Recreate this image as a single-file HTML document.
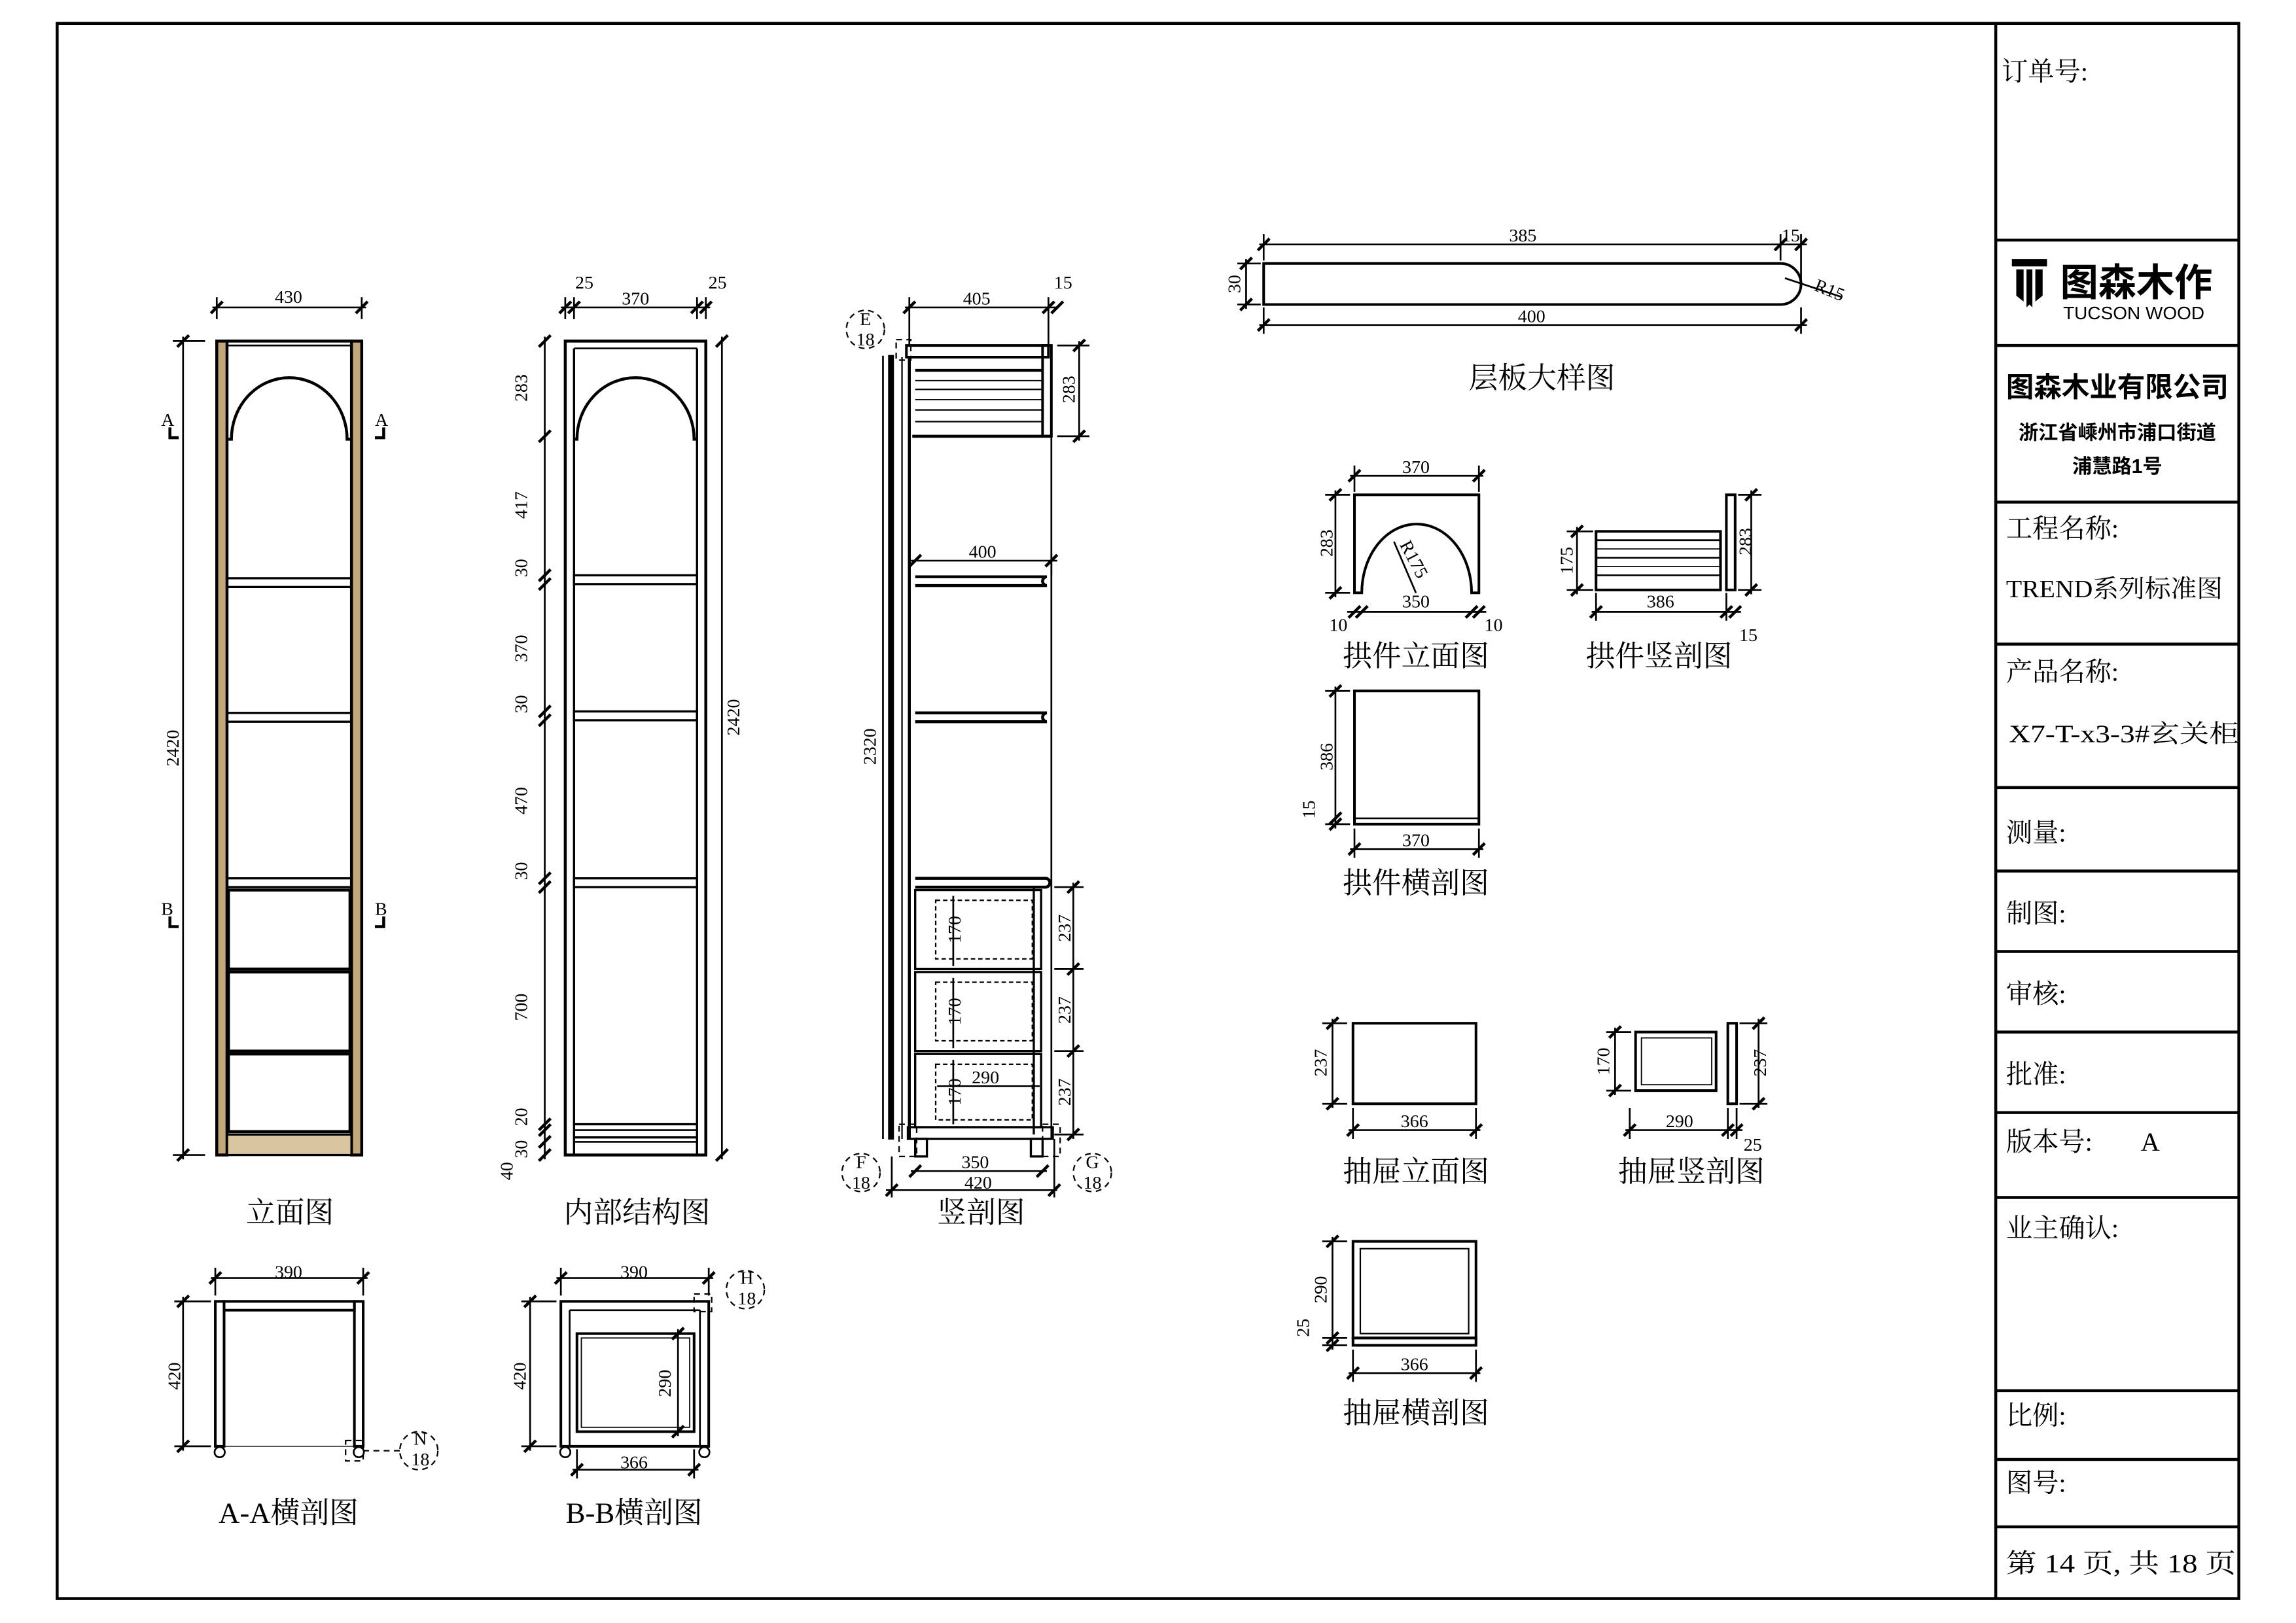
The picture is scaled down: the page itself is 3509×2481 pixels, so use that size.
<!DOCTYPE html>
<html><head><meta charset="utf-8"><style>
html,body{margin:0;padding:0;background:#fff}
svg{display:block}
.n{font-family:"Liberation Serif","Noto Serif CJK SC",serif;font-size:12.5px;fill:#000}
.t{font-family:"Liberation Serif","Noto Serif CJK SC",serif;font-size:20px;fill:#000}
.b{font-family:"Liberation Serif","Noto Serif CJK SC",serif;font-size:18px;fill:#000}
.s{font-family:"Liberation Sans","Noto Sans CJK SC",sans-serif;fill:#000}
</style></head><body>
<svg width="3509" height="2481" viewBox="0 0 1568 1108.7" xmlns="http://www.w3.org/2000/svg">
<g fill="none" stroke="#000" stroke-width="1.2">
<rect x="39" y="16" width="1490" height="1076" stroke-width="2"/>
<line x1="1363" y1="16" x2="1363" y2="1092" stroke-width="2"/>
<g stroke-width="2">
<line x1="1363" y1="164" x2="1529" y2="164"/><line x1="1363" y1="236" x2="1529" y2="236"/>
<line x1="1363" y1="343" x2="1529" y2="343"/><line x1="1363" y1="440" x2="1529" y2="440"/>
<line x1="1363" y1="538" x2="1529" y2="538"/><line x1="1363" y1="595" x2="1529" y2="595"/>
<line x1="1363" y1="650" x2="1529" y2="650"/><line x1="1363" y1="705" x2="1529" y2="705"/>
<line x1="1363" y1="760" x2="1529" y2="760"/><line x1="1363" y1="818" x2="1529" y2="818"/>
<line x1="1363" y1="950" x2="1529" y2="950"/><line x1="1363" y1="997" x2="1529" y2="997"/>
<line x1="1363" y1="1043" x2="1529" y2="1043"/>
</g>

<!-- 立面图 -->
<rect x="148" y="233" width="7" height="556" fill="#c2a77a" stroke-width="2"/>
<rect x="240" y="233" width="7" height="556" fill="#c2a77a" stroke-width="2"/>
<line x1="155" y1="233" x2="240" y2="233" stroke-width="2"/><line x1="155" y1="236" x2="240" y2="236"/>
<path d="M156,300 H158 A39.5,42 0 0 1 237,300 H240" stroke-width="2"/>
<rect x="155" y="395" width="85" height="6" stroke-width="1.5"/>
<rect x="155" y="487" width="85" height="6" stroke-width="1.5"/>
<rect x="155" y="600" width="85" height="6" stroke-width="1.5"/>
<rect x="156" y="608" width="83" height="54" stroke-width="2"/>
<rect x="156" y="664" width="83" height="54" stroke-width="2"/>
<rect x="156" y="720" width="83" height="53" stroke-width="2"/>
<rect x="155" y="775" width="85" height="14" fill="#d9c6a0" stroke-width="1.5"/>
<line x1="145" y1="210" x2="250" y2="210"/><line x1="148" y1="203" x2="148" y2="218"/><line x1="247" y1="203" x2="247" y2="218"/>
<line x1="144" y1="214" x2="152" y2="206" stroke-width="2"/><line x1="243" y1="214" x2="251" y2="206" stroke-width="2"/>
<line x1="125" y1="230" x2="125" y2="792"/><line x1="118" y1="233" x2="140" y2="233"/><line x1="118" y1="789" x2="140" y2="789"/>
<line x1="121" y1="237" x2="129" y2="229" stroke-width="2"/><line x1="121" y1="793" x2="129" y2="785" stroke-width="2"/>
<path d="M116,292 V299 H122 M262,292 V299 H256 M116,626 V633 H122 M262,626 V633 H256" stroke-width="2"/>

<!-- 内部结构图 -->
<rect x="386" y="233" width="96" height="556" stroke-width="2"/>
<line x1="392" y1="238" x2="392" y2="789" stroke-width="1.5"/><line x1="476" y1="238" x2="476" y2="789" stroke-width="1.5"/>
<line x1="392" y1="238" x2="476" y2="238"/>
<path d="M392,300 H394 A40,42 0 0 1 474,300 H476" stroke-width="2"/>
<rect x="392" y="393" width="84" height="6" stroke-width="1.5"/>
<rect x="392" y="486" width="84" height="6" stroke-width="1.5"/>
<rect x="392" y="600" width="84" height="6" stroke-width="1.5"/>
<line x1="392" y1="768" x2="476" y2="768" stroke-width="1.5"/><line x1="392" y1="772" x2="476" y2="772"/>
<line x1="392" y1="777" x2="476" y2="777" stroke-width="1.5"/><line x1="392" y1="780" x2="476" y2="780"/>
<line x1="383" y1="210" x2="485" y2="210"/>
<g stroke-width="2"><line x1="382" y1="214" x2="390" y2="206"/><line x1="388" y1="214" x2="396" y2="206"/><line x1="472" y1="214" x2="480" y2="206"/><line x1="478" y1="214" x2="486" y2="206"/></g>
<line x1="386" y1="203" x2="386" y2="218"/><line x1="392" y1="203" x2="392" y2="218"/><line x1="476" y1="203" x2="476" y2="218"/><line x1="482" y1="203" x2="482" y2="218"/>
<line x1="372" y1="230" x2="372" y2="792"/>
<g stroke-width="2">
<line x1="368" y1="237" x2="376" y2="229"/><line x1="368" y1="302" x2="376" y2="294"/><line x1="368" y1="397" x2="376" y2="389"/><line x1="368" y1="403" x2="376" y2="395"/>
<line x1="368" y1="490" x2="376" y2="482"/><line x1="368" y1="496" x2="376" y2="488"/><line x1="368" y1="604" x2="376" y2="596"/><line x1="368" y1="610" x2="376" y2="602"/>
<line x1="368" y1="772" x2="376" y2="764"/><line x1="368" y1="776" x2="376" y2="768"/><line x1="368" y1="784" x2="376" y2="776"/><line x1="368" y1="793" x2="376" y2="785"/>
<line x1="489" y1="237" x2="497" y2="229"/><line x1="489" y1="793" x2="497" y2="785"/>
</g>
<line x1="493" y1="230" x2="493" y2="792"/>

<!-- 竖剖图 -->
<line x1="603" y1="243" x2="603" y2="778" stroke-width="1.2"/>
<rect x="607" y="243" width="3" height="535" fill="#000" stroke-width="1"/>
<rect x="619" y="236" width="97" height="8" stroke-width="1.8"/>
<rect x="712" y="236" width="6" height="62" stroke-width="1.8"/>
<line x1="625" y1="253" x2="712" y2="253" stroke-width="2"/><line x1="625" y1="260" x2="712" y2="260" stroke-width="0.8"/>
<line x1="625" y1="266" x2="712" y2="266" stroke-width="1"/><line x1="625" y1="273" x2="712" y2="273" stroke-width="0.8"/>
<line x1="625" y1="280" x2="712" y2="280" stroke-width="1"/><line x1="625" y1="288" x2="712" y2="288" stroke-width="1"/>
<line x1="623" y1="298" x2="718" y2="298" stroke-width="2"/>
<line x1="616" y1="244" x2="616" y2="778" stroke-width="1"/>
<line x1="718" y1="298" x2="718" y2="778"/>
<path d="M625,394 H715 A3,3 0 0 0 715,400 H625" stroke-width="2"/>
<path d="M625,487 H715 A3,3 0 0 0 715,493 H625" stroke-width="2"/>
<path d="M625,600 H714 A3,3 0 0 1 714,606 H625" stroke-width="2"/>
<line x1="621" y1="244" x2="621" y2="778" stroke-width="2"/>
<rect x="625" y="608" width="86" height="54" stroke-width="1.5"/>
<rect x="625" y="664" width="86" height="54" stroke-width="1.5"/>
<rect x="625" y="720" width="86" height="50" stroke-width="1.5"/>
<g stroke-width="1" stroke-dasharray="3,2">
<rect x="639" y="615" width="66" height="40"/><rect x="639" y="671" width="66" height="40"/><rect x="639" y="727" width="66" height="38"/>
</g>
<line x1="706" y1="606" x2="706" y2="775" stroke-width="1.5"/>
<rect x="620" y="770" width="99" height="8" stroke-width="1.5"/>
<rect x="625" y="778" width="8" height="12" stroke-width="1.5"/><rect x="704" y="778" width="8" height="12" stroke-width="1.5"/>
<line x1="618" y1="210" x2="722" y2="210"/><line x1="621" y1="203" x2="621" y2="236"/><line x1="716" y1="203" x2="716" y2="236"/>
<g stroke-width="2"><line x1="617" y1="214" x2="625" y2="206"/><line x1="712" y1="214" x2="720" y2="206"/><line x1="718" y1="214" x2="726" y2="206"/></g>
<line x1="737" y1="233" x2="737" y2="301"/><line x1="722" y1="236" x2="744" y2="236"/><line x1="722" y1="298" x2="744" y2="298"/>
<g stroke-width="2"><line x1="733" y1="240" x2="741" y2="232"/><line x1="733" y1="302" x2="741" y2="294"/></g>
<line x1="622" y1="383" x2="722" y2="383"/><line x1="718" y1="378" x2="718" y2="393"/>
<g stroke-width="2"><line x1="621" y1="387" x2="629" y2="379"/><line x1="714" y1="387" x2="722" y2="379"/></g>
<line x1="733" y1="603" x2="733" y2="778"/>
<g stroke-width="2"><line x1="729" y1="610" x2="737" y2="602"/><line x1="729" y1="666" x2="737" y2="658"/><line x1="729" y1="722" x2="737" y2="714"/><line x1="729" y1="779" x2="737" y2="771"/></g>
<line x1="720" y1="606" x2="740" y2="606"/><line x1="720" y1="662" x2="740" y2="662"/><line x1="720" y1="718" x2="740" y2="718"/><line x1="720" y1="775" x2="740" y2="775"/>
<line x1="651" y1="612" x2="651" y2="660"/><line x1="651" y1="668" x2="651" y2="716"/><line x1="651" y1="724" x2="651" y2="768"/>
<line x1="640" y1="742" x2="710" y2="742"/>
<line x1="622" y1="800" x2="715" y2="800"/><line x1="605" y1="813" x2="722" y2="813"/>
<g stroke-width="2"><line x1="621" y1="804" x2="629" y2="796"/><line x1="708" y1="804" x2="716" y2="796"/><line x1="605" y1="817" x2="613" y2="809"/><line x1="716" y1="817" x2="724" y2="809"/></g>
<line x1="609" y1="790" x2="609" y2="818"/><line x1="720" y1="778" x2="720" y2="818"/>
<g stroke-width="1" stroke-dasharray="4,3">
<circle cx="591" cy="225" r="13"/><rect x="612" y="232" width="10" height="14"/>
<circle cx="588" cy="801" r="13"/><rect x="614" y="768" width="12" height="22"/>
<circle cx="746" cy="801" r="13"/><rect x="712" y="768" width="12" height="22"/>
</g>

<!-- 层板大样图 -->
<path d="M863,180 H1216 A14,14 0 0 1 1216,208 H863 Z" stroke-width="1.8"/>
<line x1="860" y1="167" x2="1234" y2="167"/><line x1="863" y1="160" x2="863" y2="178"/><line x1="1216" y1="160" x2="1216" y2="178"/><line x1="1230" y1="160" x2="1230" y2="192"/>
<g stroke-width="2"><line x1="859" y1="171" x2="867" y2="163"/><line x1="1212" y1="171" x2="1220" y2="163"/><line x1="1226" y1="171" x2="1234" y2="163"/></g>
<line x1="860" y1="222" x2="1234" y2="222"/><line x1="863" y1="210" x2="863" y2="228"/><line x1="1230" y1="210" x2="1230" y2="228"/>
<g stroke-width="2"><line x1="859" y1="226" x2="867" y2="218"/><line x1="1226" y1="226" x2="1234" y2="218"/></g>
<line x1="851" y1="177" x2="851" y2="211"/><line x1="845" y1="180" x2="861" y2="180"/><line x1="845" y1="208" x2="861" y2="208"/>
<g stroke-width="2"><line x1="847" y1="184" x2="855" y2="176"/><line x1="847" y1="212" x2="855" y2="204"/></g>
<line x1="1219" y1="190" x2="1258" y2="203"/>

<!-- 拱件立面图 -->
<path d="M925,405 V338 H1010 V405 H1005 A37.5,47 0 0 0 930,405 Z" stroke-width="1.8"/>
<line x1="922" y1="325" x2="1013" y2="325"/><line x1="925" y1="318" x2="925" y2="336"/><line x1="1010" y1="318" x2="1010" y2="336"/>
<g stroke-width="2"><line x1="921" y1="329" x2="929" y2="321"/><line x1="1006" y1="329" x2="1014" y2="321"/></g>
<line x1="912" y1="335" x2="912" y2="408"/><line x1="905" y1="338" x2="922" y2="338"/><line x1="905" y1="405" x2="922" y2="405"/>
<g stroke-width="2"><line x1="908" y1="342" x2="916" y2="334"/><line x1="908" y1="409" x2="916" y2="401"/></g>
<line x1="920" y1="418" x2="1015" y2="418"/>
<g stroke-width="2"><line x1="921" y1="422" x2="929" y2="414"/><line x1="926" y1="422" x2="934" y2="414"/><line x1="1001" y1="422" x2="1009" y2="414"/><line x1="1006" y1="422" x2="1014" y2="414"/></g>
<line x1="967" y1="405" x2="952" y2="370"/>

<!-- 拱件竖剖图 -->
<rect x="1090" y="363" width="85" height="40" stroke-width="1.8"/>
<line x1="1090" y1="369" x2="1175" y2="369"/><line x1="1090" y1="375" x2="1175" y2="375" stroke-width="0.8"/><line x1="1090" y1="381" x2="1175" y2="381"/><line x1="1090" y1="387" x2="1175" y2="387" stroke-width="0.8"/><line x1="1090" y1="393" x2="1175" y2="393"/>
<rect x="1179" y="338" width="6" height="65" stroke-width="1.8"/>
<line x1="1077" y1="360" x2="1077" y2="406"/><line x1="1070" y1="363" x2="1088" y2="363"/><line x1="1070" y1="403" x2="1088" y2="403"/>
<g stroke-width="2"><line x1="1073" y1="367" x2="1081" y2="359"/><line x1="1073" y1="407" x2="1081" y2="399"/></g>
<line x1="1196" y1="335" x2="1196" y2="406"/><line x1="1187" y1="338" x2="1203" y2="338"/><line x1="1187" y1="403" x2="1203" y2="403"/>
<g stroke-width="2"><line x1="1192" y1="342" x2="1200" y2="334"/><line x1="1192" y1="407" x2="1200" y2="399"/></g>
<line x1="1087" y1="418" x2="1189" y2="418"/><line x1="1090" y1="405" x2="1090" y2="424"/><line x1="1179" y1="405" x2="1179" y2="424"/>
<g stroke-width="2"><line x1="1086" y1="422" x2="1094" y2="414"/><line x1="1175" y1="422" x2="1183" y2="414"/><line x1="1181" y1="422" x2="1189" y2="414"/></g>

<!-- 拱件横剖图 -->
<rect x="925" y="472" width="85" height="91" stroke-width="1.8"/>
<line x1="925" y1="559" x2="1010" y2="559"/>
<line x1="912" y1="469" x2="912" y2="566"/><line x1="905" y1="472" x2="922" y2="472"/><line x1="905" y1="563" x2="922" y2="563"/>
<g stroke-width="2"><line x1="908" y1="476" x2="916" y2="468"/><line x1="908" y1="563" x2="916" y2="555"/><line x1="908" y1="567" x2="916" y2="559"/></g>
<line x1="922" y1="580" x2="1013" y2="580"/><line x1="925" y1="566" x2="925" y2="586"/><line x1="1010" y1="566" x2="1010" y2="586"/>
<g stroke-width="2"><line x1="921" y1="584" x2="929" y2="576"/><line x1="1006" y1="584" x2="1014" y2="576"/></g>

<!-- 抽屉立面图 -->
<rect x="924" y="699" width="84" height="55" stroke-width="1.8"/>
<line x1="910" y1="696" x2="910" y2="757"/><line x1="903" y1="699" x2="920" y2="699"/><line x1="903" y1="754" x2="920" y2="754"/>
<g stroke-width="2"><line x1="906" y1="703" x2="914" y2="695"/><line x1="906" y1="758" x2="914" y2="750"/></g>
<line x1="921" y1="772" x2="1011" y2="772"/><line x1="924" y1="757" x2="924" y2="778"/><line x1="1008" y1="757" x2="1008" y2="778"/>
<g stroke-width="2"><line x1="920" y1="776" x2="928" y2="768"/><line x1="1004" y1="776" x2="1012" y2="768"/></g>

<!-- 抽屉竖剖图 -->
<rect x="1117" y="705" width="55" height="40" stroke-width="1.8"/>
<rect x="1121" y="709" width="48" height="32" stroke-width="0.8"/>
<rect x="1180" y="699" width="6" height="55" stroke-width="1.8"/>
<line x1="1103" y1="702" x2="1103" y2="748"/><line x1="1097" y1="705" x2="1114" y2="705"/><line x1="1097" y1="745" x2="1114" y2="745"/>
<g stroke-width="2"><line x1="1099" y1="709" x2="1107" y2="701"/><line x1="1099" y1="749" x2="1107" y2="741"/></g>
<line x1="1201" y1="696" x2="1201" y2="757"/><line x1="1188" y1="699" x2="1207" y2="699"/><line x1="1188" y1="754" x2="1207" y2="754"/>
<g stroke-width="2"><line x1="1197" y1="703" x2="1205" y2="695"/><line x1="1197" y1="758" x2="1205" y2="750"/></g>
<line x1="1110" y1="772" x2="1190" y2="772"/><line x1="1113" y1="757" x2="1113" y2="778"/><line x1="1180" y1="757" x2="1180" y2="778"/><line x1="1186" y1="757" x2="1186" y2="778"/>
<g stroke-width="2"><line x1="1109" y1="776" x2="1117" y2="768"/><line x1="1176" y1="776" x2="1184" y2="768"/><line x1="1182" y1="776" x2="1190" y2="768"/></g>

<!-- 抽屉横剖图 -->
<rect x="924" y="848" width="84" height="66" stroke-width="1.8"/>
<rect x="929" y="853" width="74" height="58" stroke-width="1"/>
<rect x="924" y="914" width="84" height="5" stroke-width="1.8"/>
<line x1="910" y1="845" x2="910" y2="922"/><line x1="903" y1="848" x2="920" y2="848"/><line x1="903" y1="914" x2="920" y2="914"/><line x1="903" y1="919" x2="920" y2="919"/>
<g stroke-width="2"><line x1="906" y1="852" x2="914" y2="844"/><line x1="906" y1="918" x2="914" y2="910"/><line x1="906" y1="923" x2="914" y2="915"/></g>
<line x1="921" y1="938" x2="1011" y2="938"/><line x1="924" y1="922" x2="924" y2="944"/><line x1="1008" y1="922" x2="1008" y2="944"/>
<g stroke-width="2"><line x1="920" y1="942" x2="928" y2="934"/><line x1="1004" y1="942" x2="1012" y2="934"/></g>

<!-- A-A横剖图 -->
<rect x="147" y="889" width="6" height="99" stroke-width="1.8"/>
<rect x="242" y="889" width="6" height="99" stroke-width="1.8"/>
<rect x="153" y="889" width="89" height="6" stroke-width="1.8"/>
<line x1="153" y1="988" x2="242" y2="988" stroke-width="0.6"/>
<circle cx="150" cy="992" r="3.5"/><circle cx="245" cy="992" r="3.5"/>
<line x1="144" y1="873" x2="251" y2="873"/><line x1="147" y1="866" x2="147" y2="885"/><line x1="248" y1="866" x2="248" y2="885"/>
<g stroke-width="2"><line x1="143" y1="877" x2="151" y2="869"/><line x1="244" y1="877" x2="252" y2="869"/></g>
<line x1="125" y1="886" x2="125" y2="991"/><line x1="119" y1="889" x2="144" y2="889"/><line x1="119" y1="988" x2="144" y2="988"/>
<g stroke-width="2"><line x1="121" y1="893" x2="129" y2="885"/><line x1="121" y1="992" x2="129" y2="984"/></g>
<g stroke-width="1" stroke-dasharray="4,3"><circle cx="286" cy="991" r="13"/><rect x="236" y="984" width="12" height="14"/><line x1="248" y1="991" x2="273" y2="991"/></g>

<!-- B-B横剖图 -->
<rect x="383" y="889" width="101" height="99" stroke-width="1.8"/>
<line x1="389" y1="895" x2="389" y2="988"/><line x1="478" y1="895" x2="478" y2="988"/><line x1="389" y1="895" x2="478" y2="895"/>
<rect x="394" y="911" width="80" height="67" stroke-width="1.8"/>
<rect x="397" y="914" width="74" height="61" stroke-width="0.8"/>
<circle cx="386" cy="992" r="3.5"/><circle cx="481" cy="992" r="3.5"/>
<line x1="380" y1="873" x2="487" y2="873"/><line x1="383" y1="866" x2="383" y2="885"/><line x1="484" y1="866" x2="484" y2="885"/>
<g stroke-width="2"><line x1="379" y1="877" x2="387" y2="869"/><line x1="480" y1="877" x2="488" y2="869"/></g>
<line x1="362" y1="886" x2="362" y2="991"/><line x1="356" y1="889" x2="380" y2="889"/><line x1="356" y1="988" x2="380" y2="988"/>
<g stroke-width="2"><line x1="358" y1="893" x2="366" y2="885"/><line x1="358" y1="992" x2="366" y2="984"/></g>
<line x1="463" y1="908" x2="463" y2="981"/>
<g stroke-width="2"><line x1="459" y1="915" x2="467" y2="907"/><line x1="459" y1="982" x2="467" y2="974"/></g>
<line x1="391" y1="1004" x2="477" y2="1004"/><line x1="394" y1="990" x2="394" y2="1010"/><line x1="474" y1="990" x2="474" y2="1010"/>
<g stroke-width="2"><line x1="390" y1="1008" x2="398" y2="1000"/><line x1="470" y1="1008" x2="478" y2="1000"/></g>
<g stroke-width="1" stroke-dasharray="4,3"><circle cx="509" cy="881" r="13"/><rect x="474" y="884" width="12" height="12"/></g>
</g>

<!-- logo icon -->
<g fill="#000">
<rect x="1374" y="177" width="24" height="5"/>
<path d="M1377,184 h5 v22 l-5,-4 z M1390,184 h5 v18 l-5,4 z M1384,184 h4 v26 l-2,-2 l-2,2 z"/>
</g>

<!-- text -->
<g class="n" text-anchor="middle">
<text x="197" y="207">430</text>
<text transform="translate(122,511) rotate(-90)">2420</text>
<text x="399" y="197">25</text><text x="434" y="208">370</text><text x="490" y="197">25</text>
<text transform="translate(360,265) rotate(-90)">283</text>
<text transform="translate(360,345) rotate(-90)">417</text>
<text transform="translate(360,388) rotate(-90)">30</text>
<text transform="translate(360,443) rotate(-90)">370</text>
<text transform="translate(360,481) rotate(-90)">30</text>
<text transform="translate(360,547) rotate(-90)">470</text>
<text transform="translate(360,595) rotate(-90)">30</text>
<text transform="translate(360,688) rotate(-90)">700</text>
<text transform="translate(360,763) rotate(-90)">20</text>
<text transform="translate(360,785) rotate(-90)">30</text>
<text transform="translate(350,800) rotate(-90)">40</text>
<text transform="translate(505,490) rotate(-90)">2420</text>
<text x="667" y="208">405</text><text x="726" y="197">15</text>
<text transform="translate(734,266) rotate(-90)">283</text>
<text x="671" y="381">400</text>
<text transform="translate(598,510) rotate(-90)">2320</text>
<text transform="translate(731,634) rotate(-90)">237</text>
<text transform="translate(731,690) rotate(-90)">237</text>
<text transform="translate(731,746) rotate(-90)">237</text>
<text transform="translate(656,635) rotate(-90)">170</text>
<text transform="translate(656,691) rotate(-90)">170</text>
<text transform="translate(656,746) rotate(-90)">170</text>
<text x="673" y="740">290</text>
<text x="666" y="798">350</text><text x="668" y="812">420</text>
<text x="591" y="222">E</text><text x="591" y="236">18</text>
<text x="588" y="798">F</text><text x="588" y="812">18</text>
<text x="746" y="798">G</text><text x="746" y="812">18</text>
<text x="1040" y="165">385</text><text x="1223" y="165">15</text><text x="1046" y="220">400</text>
<text transform="translate(847,194) rotate(-90)">30</text>
<text transform="translate(1248,202) rotate(22)">R15</text>
<text x="967" y="323">370</text>
<text transform="translate(910,371) rotate(-90)">283</text>
<text x="967" y="415">350</text><text x="914" y="431">10</text><text x="1020" y="431">10</text>
<text transform="translate(962,384) rotate(62)">R175</text>
<text transform="translate(1074,383) rotate(-90)">175</text>
<text transform="translate(1196,370) rotate(-90)">283</text>
<text x="1134" y="415">386</text><text x="1194" y="438">15</text>
<text transform="translate(910,517) rotate(-90)">386</text>
<text transform="translate(898,553) rotate(-90)">15</text>
<text x="967" y="578">370</text>
<text transform="translate(906,726) rotate(-90)">237</text>
<text x="966" y="770">366</text>
<text transform="translate(1099,725) rotate(-90)">170</text>
<text transform="translate(1206,726) rotate(-90)">237</text>
<text x="1147" y="770">290</text><text x="1197" y="786">25</text>
<text transform="translate(906,881) rotate(-90)">290</text>
<text transform="translate(894,907) rotate(-90)">25</text>
<text x="966" y="936">366</text>
<text x="197" y="873">390</text>
<text transform="translate(123,940) rotate(-90)">420</text>
<text x="287" y="987">N</text><text x="287" y="1001">18</text>
<text x="433" y="873">390</text>
<text transform="translate(359,940) rotate(-90)">420</text>
<text transform="translate(458,945) rotate(-90)">290</text>
<text x="433" y="1003">366</text>
<text x="510" y="877">H</text><text x="510" y="891">18</text>
</g>
<g class="n" font-size="14">
<text x="110" y="291">A</text><text x="256" y="291">A</text>
<text x="110" y="625">B</text><text x="256" y="625">B</text>
</g>
<g class="t" text-anchor="middle">
<text x="198" y="835">立面图</text>
<text x="435" y="835">内部结构图</text>
<text x="670" y="835">竖剖图</text>
<text x="1053" y="265">层板大样图</text>
<text x="967" y="455">拱件立面图</text>
<text x="1133" y="455">拱件竖剖图</text>
<text x="967" y="610">拱件横剖图</text>
<text x="967" y="807">抽屉立面图</text>
<text x="1155" y="807">抽屉竖剖图</text>
<text x="967" y="972">抽屉横剖图</text>
<text x="197" y="1040">A-A横剖图</text>
<text x="433" y="1040">B-B横剖图</text>
</g>
<g class="b">
<text x="1367" y="55">订单号:</text>
<text x="1370" y="367">工程名称:</text>
<text x="1370" y="408" font-size="17" textLength="148" lengthAdjust="spacingAndGlyphs">TREND系列标准图</text>
<text x="1370" y="465">产品名称:</text>
<text x="1372" y="507" font-size="17" textLength="157" lengthAdjust="spacingAndGlyphs">X7-T-x3-3#玄关柜</text>
<text x="1370" y="575">测量:</text>
<text x="1370" y="630">制图:</text>
<text x="1370" y="685">审核:</text>
<text x="1370" y="740">批准:</text>
<text x="1370" y="786">版本号:</text><text x="1462" y="786">A</text>
<text x="1370" y="845">业主确认:</text>
<text x="1370" y="973">比例:</text>
<text x="1370" y="1019">图号:</text>
<text x="1370" y="1074" textLength="157" lengthAdjust="spacingAndGlyphs">第 14 页, 共 18 页</text>
</g>
<g class="s" font-weight="bold">
<text x="1407" y="202" font-size="26">图森木作</text>
<text x="1409" y="218" font-size="12.5" font-weight="normal">TUCSON WOOD</text>
<text x="1446" y="271" font-size="19" text-anchor="middle">图森木业有限公司</text>
<text x="1446" y="300" font-size="13.5" text-anchor="middle">浙江省嵊州市浦口街道</text>
<text x="1446" y="323" font-size="13.5" text-anchor="middle">浦慧路1号</text>
</g>
</svg>
</body></html>
